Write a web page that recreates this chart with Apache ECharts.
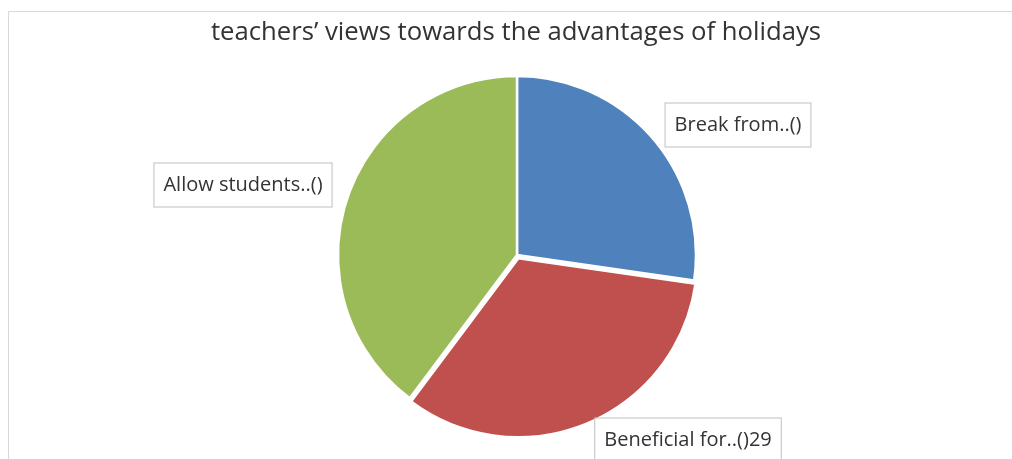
<!DOCTYPE html>
<html>
<head>
<meta charset="utf-8">
<script src="https://cdn.jsdelivr.net/npm/echarts@6/dist/echarts.min.js"></script>
<style>
  html, body { margin: 0; padding: 0; background: #ffffff; }
  #chart { width: 1012px; height: 459px; }
</style>
</head>
<body>
<div id="chart"></div>
<script>
// Survey categories and counts
const categories = ['Break from..()', 'Beneficial for..()', 'Allow students..()'];
const counts = [24, 29, 35];
const showValue = [false, true, false];
const exploded = [false, true, false];
const sliceColors = ['#4F81BD', '#C0504D', '#9BBB59'];

// Pie geometry and where each data label box sits relative to the pie centre
const CX = 517, CY = 255, R = 179, EXPLODE = 3.5;
const labelOffsets = [[221, -130], [171, 185], [-274, -70]];

// Direction in which the exploded slice is pulled out (along its bisector)
const total = counts.reduce((a, b) => a + b, 0);
function bisectorShift(idx) {
  const before = counts.slice(0, idx).reduce((a, b) => a + b, 0);
  const mid = (before + counts[idx] / 2) / total * 2 * Math.PI; // clockwise from 12 o'clock
  return [EXPLODE * Math.sin(mid), -EXPLODE * Math.cos(mid)];
}
const explodedIndex = exploded.indexOf(true);
const shift = bisectorShift(explodedIndex);

const labelStyle = {
  show: true,
  position: 'outside',
  fontFamily: 'Open Sans',
  fontSize: 20,
  lineHeight: 25,
  color: '#333333',
  backgroundColor: '#ffffff',
  borderColor: '#bfbfbf',
  borderWidth: 1,
  padding: [9, 9, 9, 9],
  formatter: p => p.name + (showValue[p.dataIndex] ? p.value : '')
};

function placeLabel(params) {
  const off = labelOffsets[params.dataIndex];
  return { x: CX + off[0], y: CY + off[1], align: 'center', verticalAlign: 'middle' };
}

// One pie layer: slices flagged by `visibleIf` are painted, the rest are left empty
function pieLayer(visibleIf, center, z) {
  return {
    type: 'pie',
    z: z,
    center: center,
    radius: [0, R],
    startAngle: 90,
    clockwise: true,
    avoidLabelOverlap: false,
    emphasis: { disabled: true },
    labelLine: { show: false },
    label: labelStyle,
    labelLayout: placeLabel,
    data: categories.map((name, i) => {
      const on = visibleIf(i);
      return {
        name: name,
        value: counts[i],
        itemStyle: on
          ? { color: sliceColors[i], borderColor: '#ffffff', borderWidth: 2.5 }
          : { color: 'rgba(0,0,0,0)', borderWidth: 0 },
        label: { show: on }
      };
    })
  };
}

const chart = echarts.init(document.getElementById('chart'), null, { renderer: 'canvas' });

chart.setOption({
  backgroundColor: '#ffffff',
  animation: false,
  tooltip: { show: false },
  title: {
    text: 'teachers\u2019 views towards the advantages of holidays',
    left: 511,
    top: 15,
    textAlign: 'center',
    textStyle: {
      fontFamily: 'Open Sans',
      fontSize: 25.7,
      fontWeight: 'normal',
      color: '#333333'
    }
  },
  graphic: [{
    type: 'rect',
    silent: true,
    z: -1,
    shape: { x: 8.5, y: 11.5, width: 1100, height: 500 },
    style: { fill: 'none', stroke: '#d9d9d9', lineWidth: 1 }
  }],
  series: [
    pieLayer(i => !exploded[i], [CX, CY], 2),
    pieLayer(i => exploded[i], [CX + shift[0], CY + shift[1]], 3)
  ]
});
</script>
</body>
</html>
